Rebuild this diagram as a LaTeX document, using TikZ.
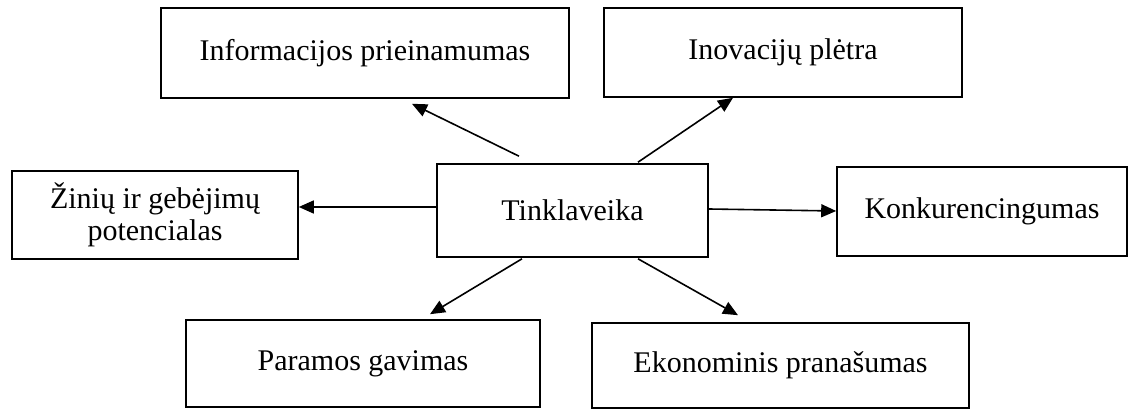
\documentclass[tikz,border=0pt]{standalone}
\usepackage{fontspec}
\setmainfont{Liberation Serif}
\usetikzlibrary{arrows.meta}
\begin{document}
\begin{tikzpicture}[x=1pt,y=1pt,
  box/.style={draw=black, line width=1.6pt, fill=white, align=center, inner sep=2pt,
    font=\fontsize{30}{32}\selectfont},
  arr/.style={line width=1.6pt, -{Triangle[length=15pt,width=13pt]}}]
\useasboundingbox (0,0) rectangle (1133,409);
\node[box, minimum width=408pt, minimum height=90pt] (info) at (365,356) {Informacijos prieinamumas};
\node[box, minimum width=358pt, minimum height=89pt] (inov) at (783,356.5) {Inovacijų plėtra};
\node[box, minimum width=286pt, minimum height=88pt] (zin) at (155,194) {Žinių ir gebėjimų\\potencialas};
\node[box, minimum width=271pt, minimum height=93pt] (tink) at (572.5,198.5) {Tinklaveika};
\node[box, minimum width=290pt, minimum height=89pt] (konk) at (982,197.5) {Konkurencingumas};
\node[box, minimum width=354pt, minimum height=87pt] (param) at (363,45.5) {Paramos gavimas};
\node[box, minimum width=377pt, minimum height=85pt] (ekon) at (780.5,43.5) {Ekonominis pranašumas};
\draw[arr] ([xshift=-53.5pt,yshift=7pt]tink.north) -- ([xshift=47pt,yshift=-5pt]info.south);
\draw[arr] ([xshift=65.5pt,yshift=1pt]tink.north) -- ([xshift=-50pt]inov.south);
\draw[arr] ([yshift=3.5pt]tink.west) -- ([yshift=8pt]zin.east);
\draw[arr] ([yshift=1.5pt]tink.east) -- ([yshift=0.5pt]konk.west);
\draw[arr] ([xshift=-50.5pt,yshift=-1pt]tink.south) -- ([xshift=67pt,yshift=5pt]param.north);
\draw[arr] ([xshift=65.5pt,yshift=-1pt]tink.south) -- ([xshift=-42.5pt,yshift=7pt]ekon.north);
\end{tikzpicture}
\end{document}
